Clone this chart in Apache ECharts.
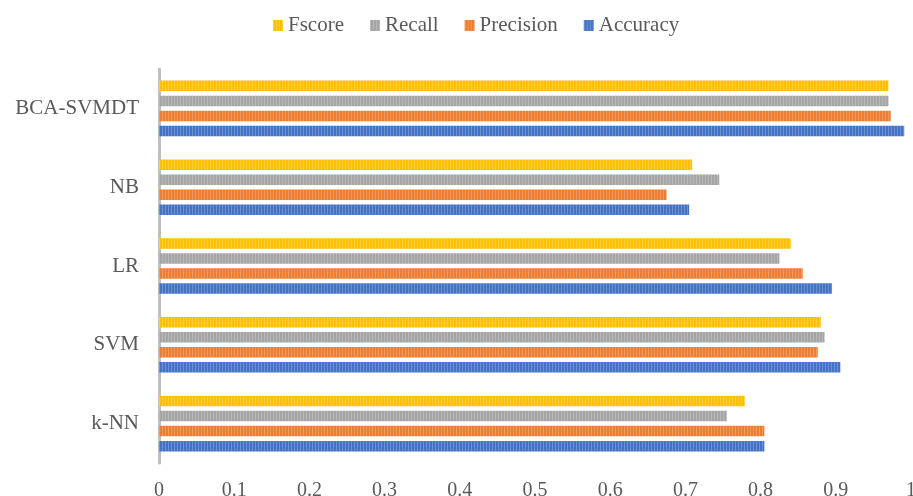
<!DOCTYPE html>
<html>
<head>
<meta charset="utf-8">
<script src="https://cdn.jsdelivr.net/npm/echarts@6/dist/echarts.min.js"></script>
<style>
  html, body { margin: 0; padding: 0; background: #fff; }
  #chart { width: 913px; height: 496px; }
</style>
</head>
<body>
<div id="chart"></div>
<script>
// Classifier names, bottom to top on the category axis
const models = ['k-NN', 'SVM', 'LR', 'NB', 'BCA-SVMDT'];

// Scores per metric, in the same order as models
const accuracy  = [0.805, 0.906, 0.895, 0.705, 0.991];
const precision = [0.805, 0.876, 0.856, 0.675, 0.973];
const recall    = [0.755, 0.885, 0.825, 0.745, 0.970];
const fscore    = [0.779, 0.880, 0.840, 0.709, 0.970];

const xTicks = ['0', '0.1', '0.2', '0.3', '0.4', '0.5', '0.6', '0.7', '0.8', '0.9', '1'];

// Series order puts Fscore on top of each group and Accuracy at the bottom
const metricNames = ['Fscore', 'Recall', 'Precision', 'Accuracy'];
const metricData = [fscore, recall, precision, accuracy];
const metricColors = ['#FFC000', '#A5A5A5', '#ED7D31', '#4472C4'];

const font = '"Liberation Serif", "Times New Roman", serif';

const stripes = {
  symbol: 'rect',
  symbolSize: 1,
  dashArrayX: [1, 2],
  dashArrayY: [4, 0],
  color: 'rgba(255,255,255,0.22)'
};

const chart = echarts.init(document.getElementById('chart'), null, { renderer: 'canvas' });

chart.setOption({
  animation: false,
  backgroundColor: '#ffffff',
  textStyle: { fontFamily: font },
  legend: {
    data: metricNames,
    left: 273,
    top: 15,
    padding: 0,
    itemWidth: 10,
    itemHeight: 11,
    itemGap: 26,
    icon: 'rect',
    textStyle: { fontFamily: font, fontSize: 21, color: '#595959' }
  },
  grid: {
    left: 159, right: 2, top: 69, bottom: 33,
    containLabel: false,
    outerBoundsMode: 'none'
  },
  xAxis: {
    type: 'value',
    min: 0,
    max: 1,
    interval: 0.1,
    axisLine: { show: false },
    axisTick: { show: false },
    splitLine: { show: false },
    axisLabel: {
      fontFamily: font,
      fontSize: 20,
      color: '#595959',
      margin: 18,
      formatter: function (v) { return xTicks[Math.round(v * 10)]; }
    }
  },
  yAxis: {
    type: 'category',
    data: models,
    axisLine: { show: true, lineStyle: { color: '#BFBFBF', width: 3 } },
    axisTick: { show: false },
    splitLine: { show: false },
    axisLabel: { fontFamily: font, fontSize: 21, color: '#595959', margin: 20 }
  },
  series: metricNames.map(function (name, i) {
    return {
      name: name,
      type: 'bar',
      data: metricData[i],
      barCategoryGap: '29.5%',
      barGap: '43%',
      itemStyle: { color: metricColors[i], decal: stripes }
    };
  })
});
</script>
</body>
</html>
